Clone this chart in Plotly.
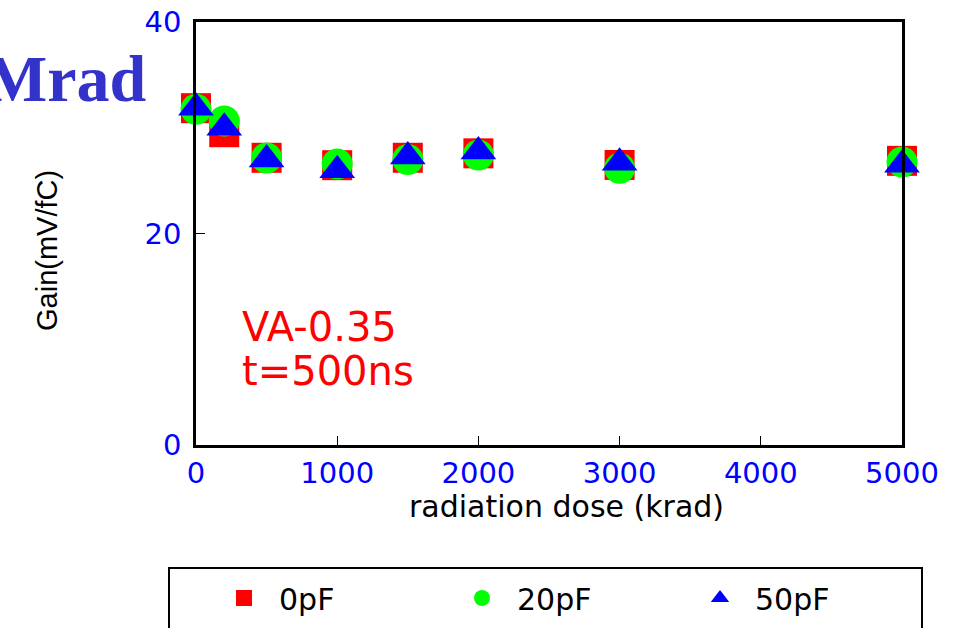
import plotly.graph_objects as go

# ---- data ----
dose_krad = [0, 200, 500, 1000, 1500, 2000, 3000, 5000]
gain_0pF = [31.85, 29.58, 27.16, 26.46, 27.16, 27.58, 26.48, 26.87]
gain_20pF = [31.74, 30.64, 27.14, 26.57, 27.0, 27.42, 26.17, 26.76]
gain_50pF = [31.89, 30.0, 27.0, 25.99, 27.28, 27.75, 26.69, 26.5]
series_names = ["0pF", "20pF", "50pF"]
x_ticks = [0, 1000, 2000, 3000, 4000, 5000]
y_ticks = [0, 20, 40]

# ---- geometry helpers (pixel -> paper) ----
W, H = 955, 628
L, R, T, B = 196, 53, 22, 183


def px(x):
    return (x - L) / (W - L - R)


def py(y):
    return (H - B - y) / (H - T - B)


SANS = "DejaVu Sans"

fig = go.Figure()
fig.add_trace(go.Scatter(
    x=dose_krad, y=gain_0pF, name=series_names[0], mode="markers",
    marker=dict(symbol="square", size=30, color="#ff0000", line=dict(width=0)),
    cliponaxis=False))
fig.add_trace(go.Scatter(
    x=dose_krad, y=gain_20pF, name=series_names[1], mode="markers",
    marker=dict(symbol="circle", size=31, color="#00ff00", line=dict(width=0)),
    cliponaxis=False))
fig.add_trace(go.Scatter(
    x=dose_krad, y=gain_50pF, name=series_names[2], mode="markers",
    marker=dict(symbol="triangle-up", size=31, color="#0000ff", line=dict(width=0)),
    cliponaxis=False))

axis_common = dict(
    showgrid=False, zeroline=False, showline=True, mirror=True,
    linecolor="black", linewidth=2.5, ticks="inside", ticklen=9,
    tickwidth=1, tickcolor="black",
    tickfont=dict(family=SANS, size=29, color="#0000ff"),
)

fig.update_layout(
    width=W, height=H,
    margin=dict(l=L, r=R, t=T, b=B, pad=0, autoexpand=False),
    paper_bgcolor="white", plot_bgcolor="white",
    xaxis=dict(range=[0, 5000], tickvals=x_ticks,
               ticktext=[str(v) for v in x_ticks], **axis_common),
    yaxis=dict(range=[0, 40], tickvals=y_ticks, ticklabelstandoff=6,
               ticktext=[str(v) for v in y_ticks], **axis_common),
    showlegend=True,
    legend=dict(
        orientation="h", x=px(169), y=py(572), xanchor="left", yanchor="top",
        font=dict(family=SANS, size=30, color="black"),
        bgcolor="rgba(0,0,0,0)", borderwidth=0, indentation=40,
        itemwidth=60, entrywidth=123, entrywidthmode="pixels",
    ),
)

annotations = [
    dict(text="<b>Mrad</b>", x=px(148), y=py(79), xanchor="right", yanchor="middle",
         font=dict(family="Liberation Serif", size=66, color="#3333cc")),
    dict(text="VA-0.35", x=px(240), y=py(327), xanchor="left", yanchor="middle",
         font=dict(family=SANS, size=40, color="#ff0000")),
    dict(text="t=500ns", x=px(240), y=py(371), xanchor="left", yanchor="middle",
         font=dict(family=SANS, size=40, color="#ff0000")),
    dict(text="radiation dose (krad)", x=px(566), y=py(506), xanchor="center",
         yanchor="middle", font=dict(family=SANS, size=30, color="black")),
    dict(text="Gain(mV/fC)", x=px(47), y=py(251), xanchor="center", yanchor="middle",
         textangle=-90,
         font=dict(family="Liberation Sans", size=29, color="black")),
]
for a in annotations:
    a.update(xref="paper", yref="paper", showarrow=False)
fig.update_layout(annotations=annotations)

# legend frame (extends below the page edge as in the reference)
fig.add_shape(type="rect", xref="paper", yref="paper",
              x0=px(169), x1=px(922), y0=py(568), y1=py(660),
              line=dict(color="black", width=2), fillcolor="rgba(0,0,0,0)")

fig.write_html("out.html", config={"displayModeBar": False},
               post_script="document.body.style.margin='0';")
